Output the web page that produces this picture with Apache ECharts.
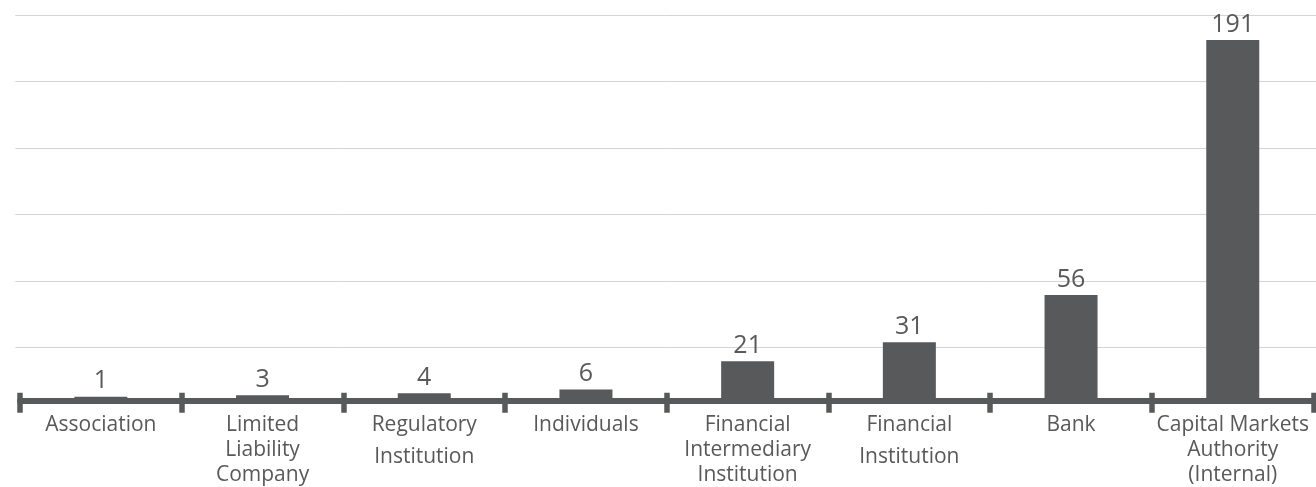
<!DOCTYPE html>
<html>
<head>
<meta charset="utf-8">
<script src="https://cdn.jsdelivr.net/npm/echarts@6/dist/echarts.min.js"></script>
<style>
  html, body { margin: 0; padding: 0; background: #ffffff; }
  #chart { width: 1316px; height: 487px; }
</style>
</head>
<body>
<div id="chart"></div>
<script>
// Complaints by source type
const categories = [
  'Association',
  'Limited\nLiability\nCompany',
  'Regulatory\nInstitution',
  'Individuals',
  'Financial\nIntermediary\nInstitution',
  'Financial\nInstitution',
  'Bank',
  'Capital Markets\nAuthority\n(Internal)'
];
const counts = [1, 3, 4, 6, 21, 31, 56, 191];

const INK = '#58595b';
const TEXT = '#595959';
const FONT = '"Open Sans", "Noto Sans", sans-serif';

// Two-line labels are spread further apart than three-line ones.
function categoryLabel(value) {
  const lines = String(value).split('\n');
  if (lines.length === 2) {
    return '{a|' + lines[0] + '}\n{c|' + lines[1] + '}';
  }
  return lines.map(l => '{a|' + l + '}').join('\n');
}

const chart = echarts.init(document.getElementById('chart'), null, { renderer: 'canvas' });

chart.setOption({
  backgroundColor: '#ffffff',
  animation: false,
  textStyle: { fontFamily: FONT },
  grid: [
    // bars
    { left: 20, right: 2.4, top: 23, bottom: 86.2 },
    // horizontal guide lines
    { left: 15.3, right: 0, top: 15.3, height: 332 }
  ],
  xAxis: [
    {
      type: 'category',
      gridIndex: 0,
      data: categories,
      position: 'bottom',
      axisLine: { show: true, lineStyle: { color: INK, width: 6 } },
      axisTick: { show: true, length: 12, lineStyle: { color: INK, width: 5.5 } },
      axisLabel: {
        color: TEXT,
        fontSize: 21,
        margin: 12,
        interval: 0,
        fontFamily: FONT,
        formatter: categoryLabel,
        rich: {
          a: { fontSize: 21, lineHeight: 25, color: TEXT, fontFamily: FONT },
          c: { fontSize: 21, lineHeight: 38.4, color: TEXT, fontFamily: FONT }
        }
      }
    },
    {
      type: 'category',
      gridIndex: 0,
      data: categories,
      position: 'bottom',
      axisLine: { show: false },
      axisTick: { show: true, inside: true, length: 8, lineStyle: { color: INK, width: 5.5 } },
      axisLabel: { show: false }
    },
    {
      type: 'value',
      gridIndex: 1,
      min: 0,
      max: 1,
      show: false
    }
  ],
  yAxis: [
    {
      type: 'value',
      gridIndex: 0,
      min: 0,
      max: 200,
      show: false,
      splitLine: { show: false }
    },
    {
      type: 'value',
      gridIndex: 1,
      min: 0,
      max: 5,
      interval: 1,
      axisLine: { show: false },
      axisTick: { show: false },
      axisLabel: { show: false },
      splitLine: { show: true, lineStyle: { color: '#d4d4d4', width: 1 } }
    }
  ],
  series: [
    {
      type: 'bar',
      xAxisIndex: 0,
      yAxisIndex: 0,
      data: counts,
      barWidth: 53,
      barMinHeight: 4,
      itemStyle: { color: INK },
      z: 3,
      label: {
        show: true,
        position: 'top',
        distance: 3,
        color: TEXT,
        fontSize: 25,
        fontFamily: FONT
      }
    }
  ]
});
</script>
</body>
</html>
